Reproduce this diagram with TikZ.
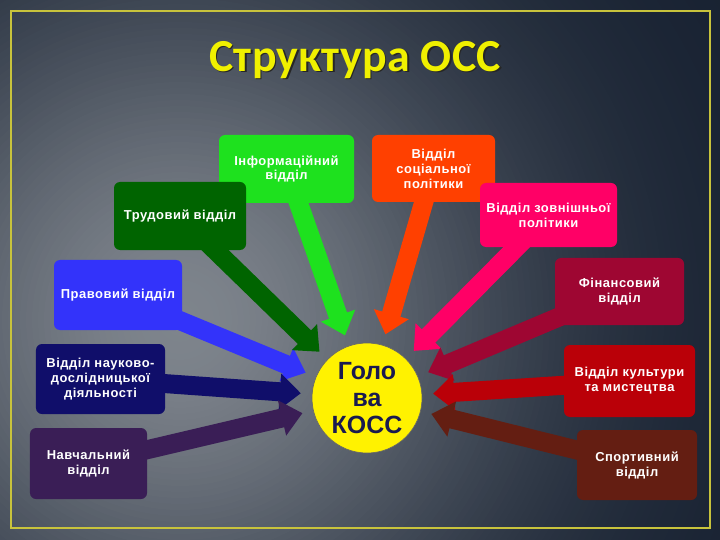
\documentclass[tikz,border=0pt]{standalone}
\usepackage{fontspec}
\setmainfont{Liberation Sans}
\newfontfamily\titlefont{Carlito}
\usetikzlibrary{arrows.meta}
\pgfdeclarelayer{bglayer}
\pgfdeclarelayer{arrlayer}
\pgfsetlayers{bglayer,arrlayer,main}
\definecolor{bgA}{RGB}{126,132,140}
\definecolor{bgE}{RGB}{22,32,48}
\definecolor{frameC}{RGB}{200,195,60}
\definecolor{titleY}{RGB}{240,240,0}
\definecolor{cInfo}{RGB}{30,225,30}
\definecolor{cSoc}{RGB}{255,64,0}
\definecolor{cZovn}{RGB}{255,0,102}
\definecolor{cTrud}{RGB}{0,100,0}
\definecolor{cPrav}{RGB}{51,51,250}
\definecolor{cNauk}{RGB}{16,14,106}
\definecolor{cNavch}{RGB}{58,30,86}
\definecolor{cFin}{RGB}{158,6,50}
\definecolor{cKult}{RGB}{186,0,8}
\definecolor{cSport}{RGB}{100,30,18}
\definecolor{hubText}{RGB}{26,26,80}
\begin{document}
\begin{tikzpicture}[x=1bp,y=-1bp,
  box/.style={rounded corners=6bp, text=white, align=center, inner sep=0pt,
    font=\bfseries\fontsize{13}{15}\selectfont\addfontfeatures{LetterSpace=4}},
  arr/.style={line width=19bp, -{Triangle[width=35bp,length=21bp]}, shorten >=11bp},
  frame/.style={draw=frameC, line width=2bp},
  ttl/.style={font=\titlefont\bfseries\fontsize{46}{52}\selectfont\addfontfeatures{LetterSpace=1}}]
\useasboundingbox (0,0) rectangle (720,540);
\begin{pgfonlayer}{bglayer}
\clip (0,0) rectangle (720,540);
\fill[bgE] (0,0) rectangle (720,540);
\foreach \r in {640,634,...,6} {
  \pgfmathsetmacro\p{100*exp(-((\r/330)^2))}
  \fill[bgA!\p!bgE] (180,320) circle (\r);
}
\draw[frame] (11,11) rectangle (710,528);
\end{pgfonlayer}
% title
\node[ttl, text=black!85] (titleshadow) at (356.5,61.5) {Структура ОСС};
\node[ttl, text=titleY] (title) at (355,60) {Структура ОСС};
% boxes
\node[box, fill=cInfo, minimum width=135bp, minimum height=68bp] (info) at (286.5,169) {Інформаційний\\відділ};
\node[box, fill=cSoc, minimum width=123bp, minimum height=67bp] (soc) at (433.5,168.5) {Відділ\\соціальної\\політики};
\node[box, fill=cZovn, minimum width=137bp, minimum height=64bp] (zovn) at (548.5,215) {Відділ зовнішньої\\політики};
\node[box, fill=cTrud, minimum width=132bp, minimum height=68bp] (trud) at (180,216) {Трудовий відділ};
\node[box, fill=cPrav, minimum width=128bp, minimum height=70bp] (prav) at (118,295) {Правовий відділ};
\node[box, fill=cNauk, minimum width=129bp, minimum height=70bp] (nauk) at (100.5,379) {Відділ науково-\\дослідницької\\діяльності};
\node[box, fill=cNavch, minimum width=117bp, minimum height=71bp] (navch) at (88.5,463.5) {Навчальний\\відділ};
\node[box, fill=cFin, minimum width=129bp, minimum height=67bp] (fin) at (619.5,291.5) {Фінансовий\\відділ};
\node[box, fill=cKult, minimum width=131bp, minimum height=72bp] (kult) at (629.5,381) {Відділ культури\\та мистецтва};
\node[box, fill=cSport, minimum width=120bp, minimum height=70bp] (sport) at (637,465) {Спортивний\\відділ};
% hub
\node[circle, fill=yellow, draw=black!60, line width=0.6bp, minimum size=110bp, inner sep=0pt,
  text=hubText, align=center, font=\bfseries\fontsize{25}{27}\selectfont] (hub) at (367,398) {Голо\\ва\\КОСС};
% arrows
\begin{pgfonlayer}{arrlayer}
\draw[arr, cPrav] (prav.center) -- (hub);
\draw[arr, cTrud] (trud.center) -- (hub);
\draw[arr, cInfo] (info.center) -- (hub);
\draw[arr, cSoc] (soc.center) -- (hub);
\draw[arr, cZovn] (zovn.center) -- (hub);
\draw[arr, cNauk] (nauk.center) -- (hub);
\draw[arr, cNavch] (navch.center) -- (hub);
\draw[arr, cFin] (fin.center) -- (hub);
\draw[arr, cKult] (kult.center) -- (hub);
\draw[arr, cSport] (sport.center) -- (hub);
\end{pgfonlayer}
\end{tikzpicture}
\end{document}
